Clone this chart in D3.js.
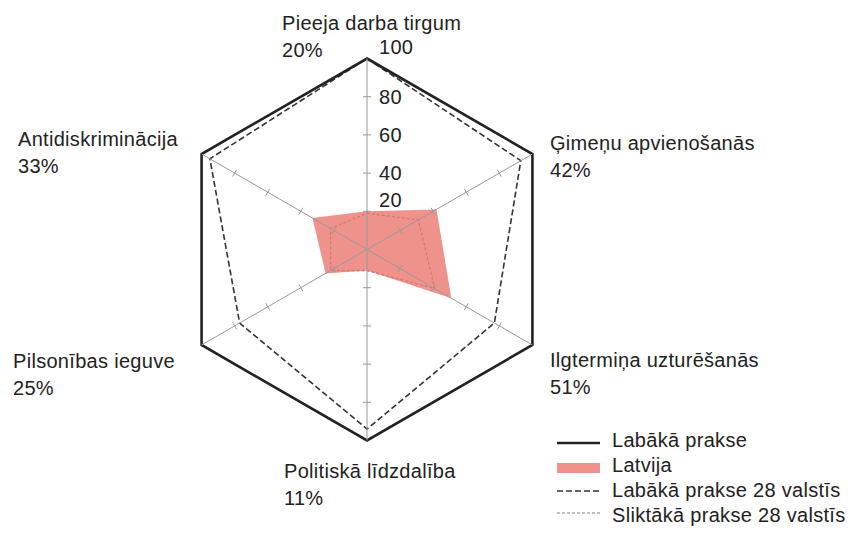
<!DOCTYPE html>
<html><head><meta charset="utf-8">
<script src="https://cdn.jsdelivr.net/npm/d3@7"></script>
<style>
html,body{margin:0;padding:0;background:#fff;}
svg{display:block;font-family:"Liberation Sans",Arial,sans-serif;}
svg text{letter-spacing:0.3px;}
</style></head>
<body>
<svg id="chart" width="852" height="533"></svg>
<script>
const categories = ["Pieeja darba tirgum","Ģimeņu apvienošanās","Ilgtermiņa uzturēšanās","Politiskā līdzdalība","Pilsonības ieguve","Antidiskriminācija"];
const latvija = [20, 42, 51, 11, 25, 33];
const bestPractice = [100, 100, 100, 100, 100, 100];
const best28 = [100, 93, 77, 94, 77, 95];
const worst28 = [19, 31, 41, 11, 22, 22];
const tickValues = [20, 40, 60, 80, 100];
const legendLabels = ["Labākā prakse","Latvija","Labākā prakse 28 valstīs","Sliktākā prakse 28 valstīs"];

const svg = d3.select("#chart");
const cx = 367, cy = 249.5, R = 191;
const r = d3.scaleLinear().domain([0,100]).range([0,R]);
const ang = d3.scaleLinear().domain([0, categories.length]).range([0, 2*Math.PI]);
const pt = (i,v) => [cx + r(v)*Math.sin(ang(i)), cy - r(v)*Math.cos(ang(i))];
const radial = d3.lineRadial().angle((d,i)=>ang(i)).radius(d=>r(d)).curve(d3.curveLinearClosed);
const g = svg.append("g").attr("transform",`translate(${cx},${cy})`);

// worst practice (under fill)
g.append("path").attr("d", radial(worst28)).attr("fill","none")
  .attr("stroke","#6a6a6a").attr("stroke-width",1.3).attr("stroke-dasharray","3,2");

// axes
categories.forEach((c,i)=>{
  const [x,y] = pt(i,100);
  svg.append("line").attr("x1",cx).attr("y1",cy).attr("x2",x).attr("y2",y)
    .attr("stroke","#999").attr("stroke-width",1);
  tickValues.slice(0,4).forEach(t=>{
    const a = ang(i);
    const [tx,ty] = pt(i,t);
    const px = Math.cos(a)*4, py = Math.sin(a)*4;
    svg.append("line").attr("x1",tx-px).attr("y1",ty-py).attr("x2",tx+px).attr("y2",ty+py)
      .attr("stroke","#999").attr("stroke-width",1);
  });
});

// Latvija fill
g.append("path").attr("d", radial(latvija)).attr("fill","#ec7a72").attr("fill-opacity",0.82).attr("stroke","none");

// best 28
g.append("path").attr("d", radial(best28)).attr("fill","none")
  .attr("stroke","#333").attr("stroke-width",1.6).attr("stroke-dasharray","6,3");
// best practice
g.append("path").attr("d", radial(bestPractice)).attr("fill","none")
  .attr("stroke","#222").attr("stroke-width",2.6).attr("stroke-linejoin","miter");

// tick labels
const tickLift = {20:11, 100:12};
tickValues.forEach(t=>{
  svg.append("text").attr("x",cx+12).attr("y",cy - r(t) + 7 - (tickLift[t]||0))
    .attr("font-size",20).attr("fill","#222").text(t);
});

// category labels
const labelPos = [
  {x:282, y:30}, {x:550, y:150}, {x:550, y:367},
  {x:284, y:478}, {x:13, y:368}, {x:18, y:146}
];
categories.forEach((c,i)=>{
  const t = svg.append("text").attr("font-size",20).attr("fill","#222");
  t.append("tspan").attr("x",labelPos[i].x).attr("y",labelPos[i].y).text(c);
  t.append("tspan").attr("x",labelPos[i].x).attr("y",labelPos[i].y+27).text(latvija[i]+"%");
});

// legend
const lg = svg.append("g");
const ly = [443, 468, 491, 513];
const lb = [447, 472, 497, 522];
lg.append("line").attr("x1",557).attr("x2",600).attr("y1",ly[0]).attr("y2",ly[0]).attr("stroke","#222").attr("stroke-width",2.6);
lg.append("rect").attr("x",557).attr("y",ly[1]-5).attr("width",43).attr("height",10).attr("fill","#ec7a72").attr("fill-opacity",0.82);
lg.append("line").attr("x1",557).attr("x2",600).attr("y1",ly[2]).attr("y2",ly[2]).attr("stroke","#333").attr("stroke-width",1.6).attr("stroke-dasharray","6,3");
lg.append("line").attr("x1",557).attr("x2",600).attr("y1",ly[3]).attr("y2",ly[3]).attr("stroke","#aaa").attr("stroke-width",1.3).attr("stroke-dasharray","3,2");
legendLabels.forEach((l,i)=>{
  lg.append("text").attr("x",612).attr("y",lb[i]).attr("font-size",20).attr("fill","#222").text(l);
});
</script>
</body></html>
